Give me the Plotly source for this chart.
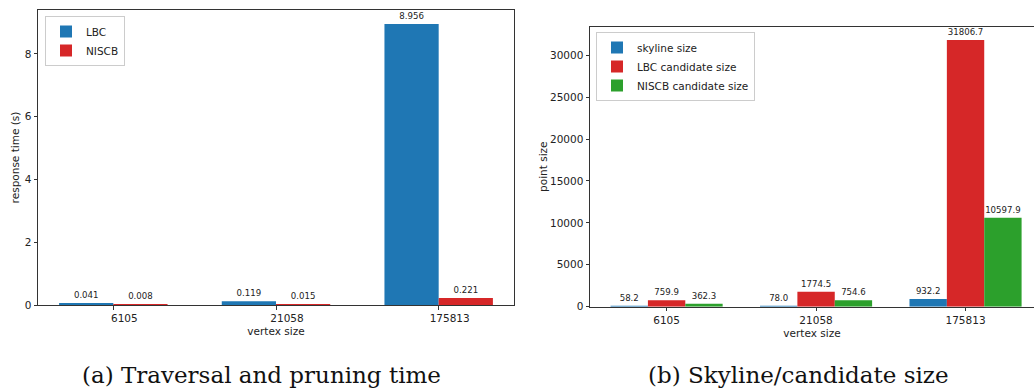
import plotly.graph_objects as go

categories = ["6105", "21058", "175813"]
lbc_time = [0.041, 0.119, 8.956]
niscb_time = [0.008, 0.015, 0.221]
skyline_size = [58.2, 78.0, 932.2]
lbc_cand = [759.9, 1774.5, 31806.7]
niscb_cand = [362.3, 754.6, 10597.9]

BLUE = "#1f77b4"
RED = "#d62728"
GREEN = "#2ca02c"
FONT = "DejaVu Sans"

idx = list(range(len(categories)))

fig = go.Figure()

def add_bar(y, name, color, xa, ya, legend, fmt, offset=None, width=None):
    kw = {}
    if offset is not None:
        kw["offset"] = offset
    if width is not None:
        kw["width"] = width
    fig.add_trace(go.Bar(
        x=idx, y=y, name=name, marker=dict(color=color, line=dict(width=0)),
        xaxis=xa, yaxis=ya, legend=legend,
        texttemplate="%{y:" + fmt + "}", textposition="outside",
        constraintext="none", cliponaxis=False,
        textfont=dict(family=FONT, size=8.6, color="#222"), **kw,
    ))

add_bar(lbc_time, "LBC", BLUE, "x", "y", "legend", ".3f")
add_bar(niscb_time, "NISCB", RED, "x", "y", "legend", ".3f")
add_bar(skyline_size, "skyline size", BLUE, "x2", "y2", "legend2", ".1f", -0.375, 0.25)
add_bar(lbc_cand, "LBC candidate size", RED, "x2", "y2", "legend2", ".1f", -0.125, 0.25)
add_bar(niscb_cand, "NISCB candidate size", GREEN, "x2", "y2", "legend2", ".1f", 0.125, 0.25)

H = 388
W = 1034
axis_common = dict(zeroline=False, showline=True, linecolor="#333", showgrid=False,
                   linewidth=1, mirror=True, ticks="outside", ticklen=3.5,
                   tickcolor="#333", automargin=False,
                   tickfont=dict(family=FONT, size=10.5, color="#222"))
title_font = dict(family=FONT, size=10.5, color="#222")

fig.update_layout(
    width=W, height=H, margin=dict(l=0, r=0, t=0, b=0, autoexpand=False),
    paper_bgcolor="white", plot_bgcolor="white",
    barmode="group", bargap=1/3, bargroupgap=0,
    xaxis=dict(domain=[38/W, 514/W], range=[-0.463, 2.463],
               tickvals=idx, ticktext=categories, ticklabelshift=11,
               title=dict(text="vertex size", font=title_font, standoff=4),
               anchor="y", **axis_common),
    yaxis=dict(domain=[(H-305)/H, (H-10)/H], range=[0, 9.40], tickvals=[0, 2, 4, 6, 8],
               title=dict(text="response time (s)", font=title_font, standoff=3),
               anchor="x", **axis_common),
    xaxis2=dict(domain=[590/W, 1.0], range=[-0.5125, 2.458],
                tickvals=idx, ticktext=categories,
                title=dict(text="vertex size", font=title_font, standoff=4),
                anchor="y2", **axis_common),
    yaxis2=dict(domain=[(H-306.7)/H, (H-26.7)/H], range=[0, 33397],
                tickvals=[0, 5000, 10000, 15000, 20000, 25000, 30000], tickformat="d",
                title=dict(text="point size", font=title_font, standoff=0),
                anchor="x2", **axis_common),
    legend=dict(x=45/W, y=(H-16)/H, xanchor="left", yanchor="top",
                bgcolor="rgba(255,255,255,0.8)", bordercolor="#cccccc", borderwidth=1,
                itemwidth=30, tracegroupgap=0,
                font=dict(family=FONT, size=10.5, color="#222")),
    legend2=dict(x=596/W, y=(H-32)/H, xanchor="left", yanchor="top",
                 bgcolor="rgba(255,255,255,0.8)", bordercolor="#cccccc", borderwidth=1,
                 itemwidth=30, tracegroupgap=0,
                 font=dict(family=FONT, size=10.5, color="#222")),
    annotations=[
        dict(text="(a) Traversal and pruning time", x=261/W, y=(H-375)/H, xref="paper", yref="paper",
             showarrow=False, xanchor="center", yanchor="middle",
             font=dict(family="DejaVu Serif", size=23, color="#111")),
        dict(text="(b) Skyline/candidate size", x=798/W, y=(H-375)/H, xref="paper", yref="paper",
             showarrow=False, xanchor="center", yanchor="middle",
             font=dict(family="DejaVu Serif", size=23, color="#111")),
    ],
)

fig.write_html("out.html")
